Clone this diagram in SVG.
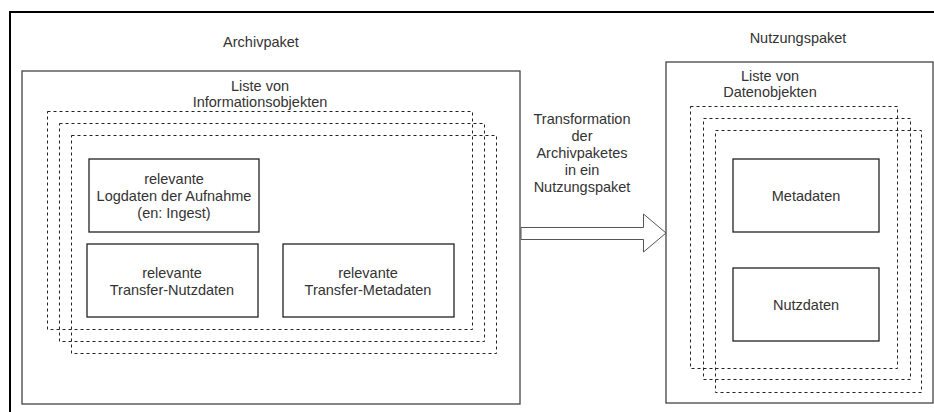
<svg xmlns="http://www.w3.org/2000/svg" width="934" height="412" viewBox="0 0 934 412">
<style>
text{font-family:"Liberation Sans",Arial,sans-serif;font-size:14.5px;fill:#333;text-anchor:middle}
.frame{fill:none;stroke:#000;stroke-width:2}
.pkg{fill:#fff;stroke:#444;stroke-width:1.3}
.box{fill:#fff;stroke:#222;stroke-width:1.3}
.dash{fill:none;stroke:#222;stroke-width:1;stroke-dasharray:3 3}
.arrow{fill:#fff;stroke:#555;stroke-width:1}
</style>
<rect width="934" height="412" fill="#fff"/>
<rect class="frame" x="10" y="12" width="940" height="420"/>
<g id="archivpaket">
<text x="261" y="47">Archivpaket</text>
<rect class="pkg" x="22" y="71" width="498" height="333"/>
<text x="260" y="91">Liste von</text>
<text x="260" y="107">Informationsobjekten</text>
</g>
<g id="informationsobjekte">
<rect class="dash" x="47.5" y="111.5" width="425" height="218"/>
<rect class="dash" x="59.5" y="123.5" width="425" height="218"/>
<rect class="dash" x="71.5" y="135.5" width="425" height="218"/>
</g>
<g id="logdaten">
<rect class="box" x="89" y="159" width="170" height="73"/>
<text x="174" y="184">relevante</text>
<text x="174" y="201">Logdaten der Aufnahme</text>
<text x="174" y="218">(en: Ingest)</text>
</g>
<g id="transfer-nutzdaten">
<rect class="box" x="87" y="244" width="171" height="73"/>
<text x="172" y="278">relevante</text>
<text x="172" y="295">Transfer-Nutzdaten</text>
</g>
<g id="transfer-metadaten">
<rect class="box" x="283" y="244" width="171" height="73"/>
<text x="368" y="278">relevante</text>
<text x="368" y="295">Transfer-Metadaten</text>
</g>
<g id="nutzungspaket">
<text x="798" y="43">Nutzungspaket</text>
<rect class="pkg" x="666" y="62" width="267" height="341"/>
<text x="770" y="81">Liste von</text>
<text x="770" y="97">Datenobjekten</text>
</g>
<g id="datenobjekte">
<rect class="dash" x="690.5" y="106.5" width="207" height="262"/>
<rect class="dash" x="703.5" y="118.5" width="207" height="261"/>
<rect class="dash" x="715.5" y="130.5" width="206" height="262"/>
</g>
<g id="metadaten">
<rect class="box" x="733" y="159" width="146" height="73"/>
<text x="806" y="201">Metadaten</text>
</g>
<g id="nutzdaten">
<rect class="box" x="733" y="268" width="146" height="73"/>
<text x="806" y="310">Nutzdaten</text>
</g>
<g id="connectors">
<path class="arrow" d="M521 227.5H643.5V214L666 233L643.5 252V239.5H521Z"/>
<text x="582" y="124">Transformation</text>
<text x="582" y="141">der</text>
<text x="582" y="158">Archivpaketes</text>
<text x="582" y="175">in ein</text>
<text x="582" y="192">Nutzungspaket</text>
</g>
</svg>
